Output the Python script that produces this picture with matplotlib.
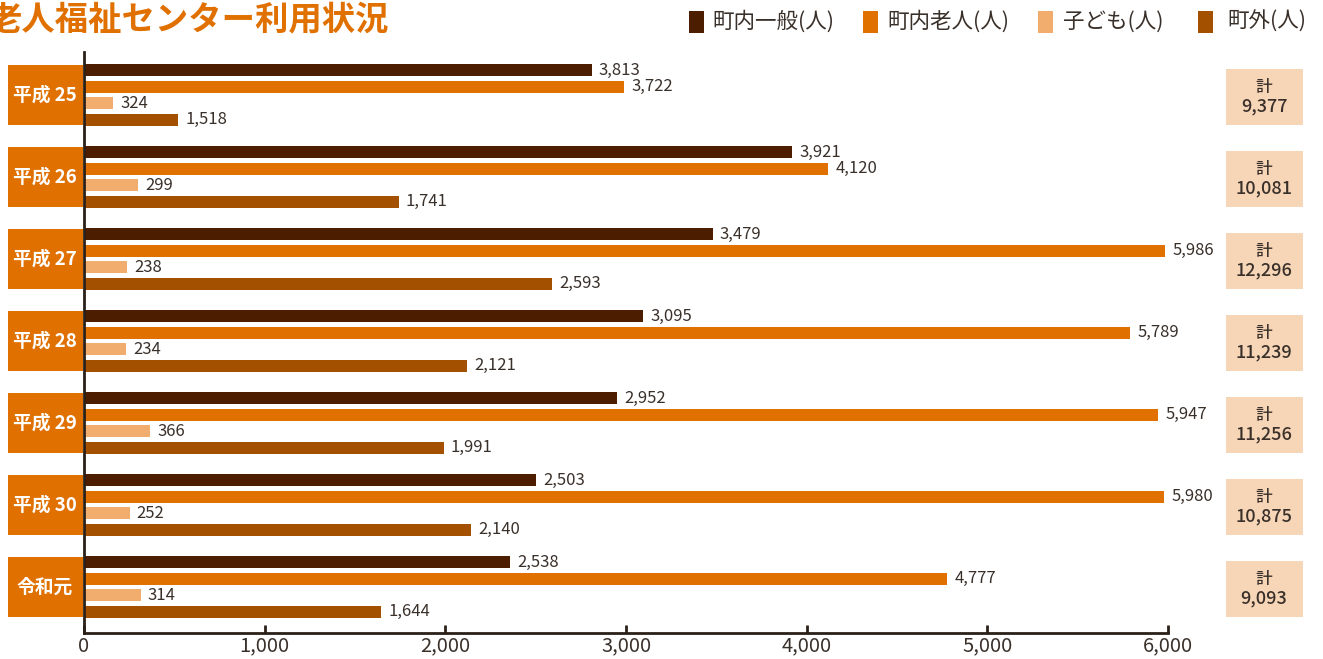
import matplotlib
matplotlib.use('Agg')
import matplotlib.pyplot as plt
from matplotlib.patches import Rectangle
from matplotlib.transforms import blended_transform_factory
from matplotlib.ticker import FuncFormatter

plt.rcParams['font.family'] = ['Noto Sans CJK JP', 'DejaVu Sans']

years = ['平成 25', '平成 26', '平成 27', '平成 28', '平成 29', '平成 30', '令和元']
series = ['町内一般(人)', '町内老人(人)', '子ども(人)', '町外(人)']
colors = ['#4d1d00', '#e07000', '#f0ad6e', '#a35000']

# printed values
general = [3813, 3921, 3479, 3095, 2952, 2503, 2538]
elderly = [3722, 4120, 5986, 5789, 5947, 5980, 4777]
children = [324, 299, 238, 234, 366, 252, 314]
outside = [1518, 1741, 2593, 2121, 1991, 2140, 1644]
totals = [9377, 10081, 12296, 11239, 11256, 10875, 9093]

# bar lengths as drawn in the source (H25 bars and R1 general don't match labels)
general_bar = [2810, 3921, 3479, 3095, 2952, 2503, 2360]
elderly_bar = [2990, 4120, 5986, 5789, 5947, 5980, 4777]
children_bar = [160, 299, 238, 234, 366, 252, 314]
outside_bar = [520, 1741, 2593, 2121, 1991, 2140, 1644]

TEXT = '#3a302a'
W, H = 1323, 659

fig = plt.figure(figsize=(W / 100, H / 100), dpi=100)
fig.patch.set_facecolor('white')
ax = fig.add_axes([84 / W, 1 - 633 / H, 1084 / W, 581 / H])

values = [general, elderly, children, outside]
bars = [general_bar, elderly_bar, children_bar, outside_bar]
offsets = [-0.302, -0.1, 0.1, 0.302]
bh = 0.145

for s in range(4):
    ys = [i + offsets[s] for i in range(len(years))]
    ax.barh(ys, bars[s], height=bh, color=colors[s], zorder=2)
    for y, b, v in zip(ys, bars[s], values[s]):
        ax.text(b + 40, y, f'{v:,}', ha='left', va='center',
                fontsize=12, color=TEXT)

ax.set_xlim(0, 6000)
ax.set_ylim(6.56, -0.524)
ax.set_xticks(range(0, 6001, 1000))
ax.xaxis.set_major_formatter(FuncFormatter(lambda v, p: f'{int(v):,}'))
ax.tick_params(axis='x', direction='in', length=6, width=2, color='#2a2018',
               labelsize=14.5, labelcolor=TEXT, pad=2)
ax.set_yticks([])
for side in ['top', 'right']:
    ax.spines[side].set_visible(False)
for side in ['left', 'bottom']:
    ax.spines[side].set_color('#2a2018')
    ax.spines[side].set_linewidth(2)

# year boxes on the left and total boxes on the right
tr = blended_transform_factory(fig.transFigure, ax.transData)
for i, (yr, tot) in enumerate(zip(years, totals)):
    fig.patches.append(Rectangle((8 / W, i - 0.366), 75 / W, 0.732,
                                 transform=tr, facecolor='#e07000',
                                 edgecolor='none', clip_on=False))
    fig.text(45 / W, i, yr, transform=tr, ha='center', va='center',
             fontsize=13.5, fontweight='bold', color='white')
    fig.patches.append(Rectangle((1226 / W, i - 0.32), 77 / W, 0.68,
                                 transform=tr, facecolor='#f7d6b8',
                                 edgecolor='none', clip_on=False))
    fig.text(1264 / W, i - 0.1, '計', transform=tr, ha='center', va='center',
             fontsize=12, fontweight='medium', color=TEXT)
    fig.text(1264 / W, i + 0.14, f'{tot:,}', transform=tr, ha='center',
             va='center', fontsize=13, fontweight='medium', color=TEXT)

# title
fig.text(-12 / W, 1 - 20 / H, '老人福祉センター利用状況', ha='left', va='center',
         fontsize=24, fontweight='bold', color='#e07000')

# legend
leg_sq = [689, 863, 1038, 1198]
leg_tx = [712, 887, 1063, 1227]
for c, name, sx, tx in zip(colors, series, leg_sq, leg_tx):
    fig.patches.append(Rectangle((sx / W, 1 - 33 / H), 15 / W, 22 / H,
                                 transform=fig.transFigure, facecolor=c,
                                 edgecolor='none'))
    fig.text(tx / W, 1 - 22 / H, name, ha='left', va='center',
             fontsize=15.5, color=TEXT)

fig.savefig('out.png', dpi=100, facecolor='white')
